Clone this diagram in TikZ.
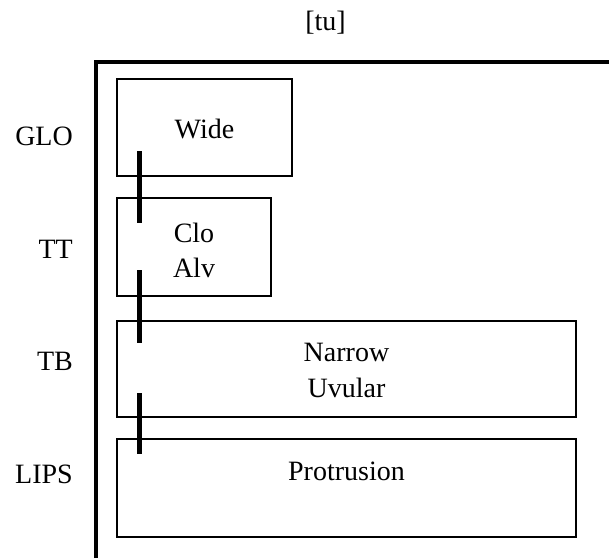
\documentclass[tikz,border=0pt]{standalone}
\usepackage{fontspec}
\setmainfont{Liberation Serif}
\begin{document}
\begin{tikzpicture}[x=1pt,y=-1pt,
  box/.style={draw, line width=2pt, rectangle, inner sep=0pt},
  txt/.style={font=\fontsize{28}{35}\selectfont, inner sep=0pt, align=center},
  bar/.style={line width=4.7pt},
  frame/.style={line width=4.8pt, line join=miter}]
\useasboundingbox (0,0) rectangle (609,558);

% title
\node[txt, anchor=base] (title) at (325.5,30) {[tu]};

% frame
\coordinate (fb) at (96,558);
\coordinate (fc) at (96,62);
\coordinate (fr) at (611,62);
\draw[frame] (fb) -- (fc) -- (fr);

% tier labels
\node[txt, anchor=base east] (glo) at (73,145) {GLO};
\node[txt, anchor=base east] (tt) at (73,258) {TT};
\node[txt, anchor=base east] (tb) at (73,370.7) {TB};
\node[txt, anchor=base east] (lips) at (73,483) {LIPS};

% boxes
\node[box, minimum width=175pt, minimum height=97pt] (wide) at (204.5,127.5) {};
\node[box, minimum width=154pt, minimum height=98pt] (clo) at (194,247) {};
\node[box, minimum width=459pt, minimum height=96.3pt] (narrow) at (346.5,368.9) {};
\node[box, minimum width=459pt, minimum height=97.4pt] (prot) at (346.5,488) {};

% box texts
\node[txt, anchor=base] (wideT) at (204.5,138.3) {Wide};
\node[txt] (cloT) at (194,250) {Clo\\Alv};
\node[txt, font=\fontsize{28}{36}\selectfont] (narrowT) at (346.5,370.2) {Narrow\\Uvular};
\node[txt, anchor=base] (protT) at (346.5,480) {Protrusion};

% phasing bars
\coordinate (b1t) at (139.3,151);
\coordinate (b1b) at (139.3,223);
\coordinate (b2t) at (139.3,270);
\coordinate (b2b) at (139.3,343);
\coordinate (b3t) at (139.3,393);
\coordinate (b3b) at (139.3,454);
\draw[bar] (b1t) -- (b1b);
\draw[bar] (b2t) -- (b2b);
\draw[bar] (b3t) -- (b3b);
\end{tikzpicture}
\end{document}
